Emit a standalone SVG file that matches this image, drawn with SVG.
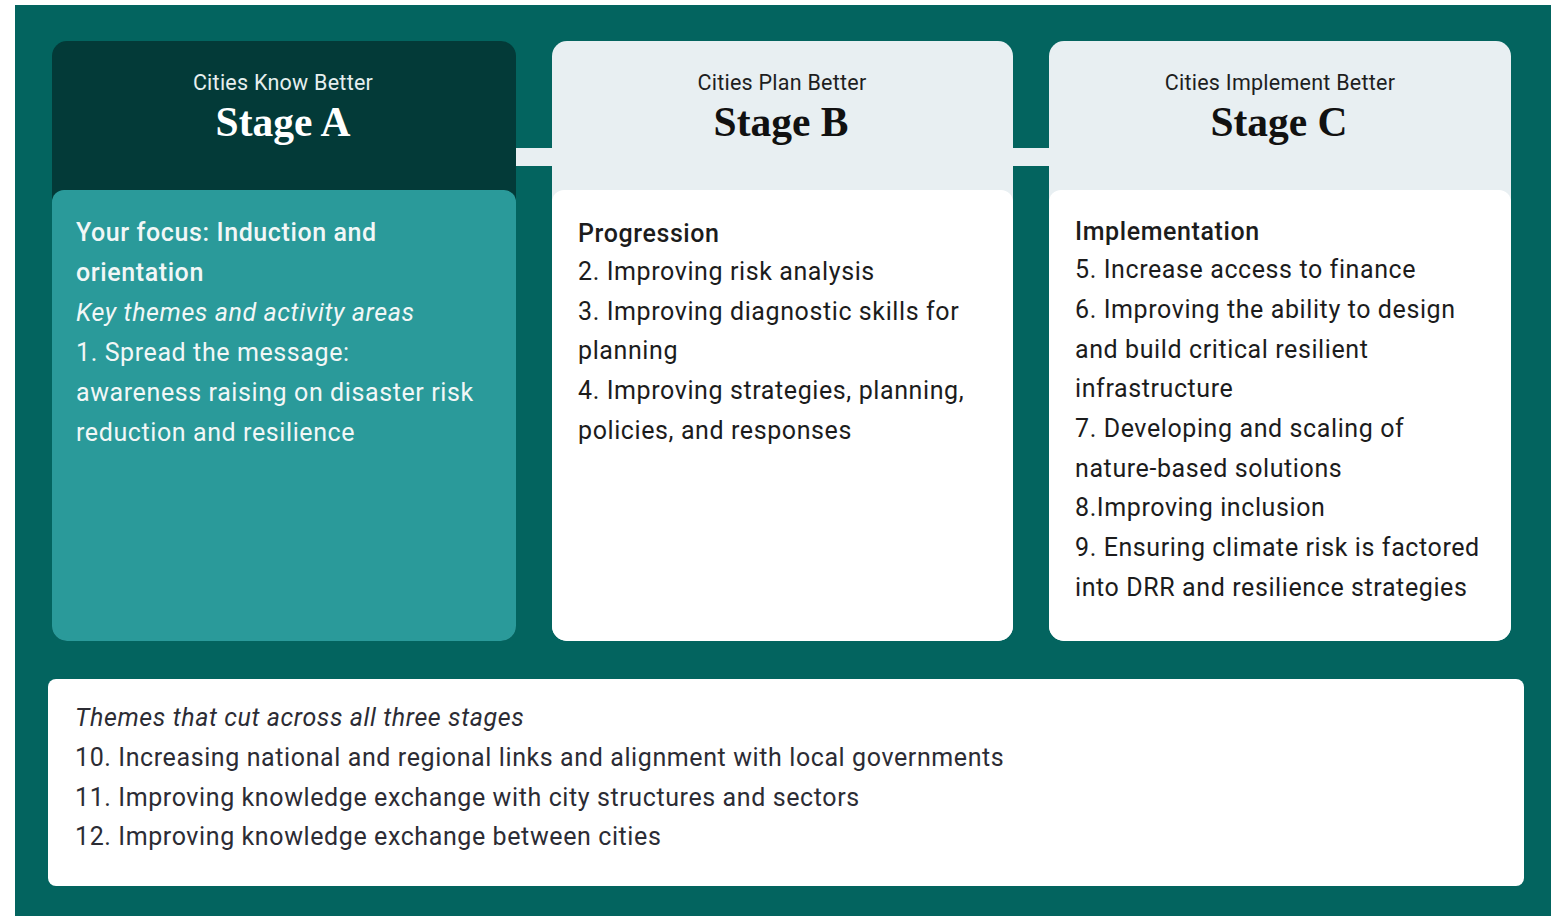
<svg xmlns="http://www.w3.org/2000/svg" width="1551" height="916" viewBox="0 0 1551 916">
<style>
.sub{font-family:Roboto,"Liberation Sans",sans-serif;font-size:21.5px;letter-spacing:0.25px;text-anchor:middle}
.ttl{font-family:"Liberation Serif","DejaVu Serif",serif;font-weight:bold;font-size:41.5px;text-anchor:middle}
.b{font-family:Roboto,"Liberation Sans",sans-serif;font-size:25px;letter-spacing:0.6px}
.hd{font-weight:500}
.it{font-style:italic}
.dk{fill:#1c1c1c}
.lt{fill:#f2f7f7}
.bt{fill:#2c2c34}
</style>
<rect x="0" y="0" width="1551" height="916" fill="#ffffff"/>
<rect x="15" y="5" width="1536" height="911" fill="#03645f"/>
<g id="connectors">
<rect x="510" y="148" width="48" height="18" fill="#e8eff2"/>
<rect x="1007" y="148" width="48" height="18" fill="#e8eff2"/>
</g>
<g id="stageA">
<rect x="52" y="41" width="464" height="600" rx="15" fill="#033a38"/>
<path d="M52 202 a12 12 0 0 1 12 -12 h440 a12 12 0 0 1 12 12 v424 a15 15 0 0 1 -15 15 h-434 a15 15 0 0 1 -15 -15 z" fill="#2a9a9a"/>
<text class="sub" x="283" y="90" fill="#e6efef">Cities Know Better</text>
<text class="ttl" x="283" y="136" fill="#ffffff">Stage A</text>
<text class="b lt hd" x="76" y="241">Your focus: Induction and</text>
<text class="b lt hd" x="76" y="281">orientation</text>
<text class="b lt it" x="76" y="321">Key themes and activity areas</text>
<text class="b lt" x="76" y="361">1. Spread the message:</text>
<text class="b lt" x="76" y="401">awareness raising on disaster risk</text>
<text class="b lt" x="76" y="441">reduction and resilience</text>
</g>
<g id="stageB">
<rect x="552" y="41" width="461" height="600" rx="15" fill="#e8eff2"/>
<path d="M552 202 a12 12 0 0 1 12 -12 h437 a12 12 0 0 1 12 12 v424 a15 15 0 0 1 -15 15 h-431 a15 15 0 0 1 -15 -15 z" fill="#ffffff"/>
<text class="sub" x="782" y="90" fill="#1e1e1e">Cities Plan Better</text>
<text class="ttl" x="781" y="136" fill="#111111">Stage B</text>
<text class="b dk hd" x="578" y="242">Progression</text>
<text class="b dk" x="578" y="280">2. Improving risk analysis</text>
<text class="b dk" x="578" y="320">3. Improving diagnostic skills for</text>
<text class="b dk" x="578" y="359">planning</text>
<text class="b dk" x="578" y="399">4. Improving strategies, planning,</text>
<text class="b dk" x="578" y="439">policies, and responses</text>
</g>
<g id="stageC">
<rect x="1049" y="41" width="462" height="600" rx="15" fill="#e8eff2"/>
<path d="M1049 202 a12 12 0 0 1 12 -12 h438 a12 12 0 0 1 12 12 v424 a15 15 0 0 1 -15 15 h-432 a15 15 0 0 1 -15 -15 z" fill="#ffffff"/>
<text class="sub" x="1280" y="90" fill="#1e1e1e">Cities Implement Better</text>
<text class="ttl" x="1279" y="136" fill="#111111">Stage C</text>
<text class="b dk hd" x="1075" y="240">Implementation</text>
<text class="b dk" x="1075" y="278">5. Increase access to finance</text>
<text class="b dk" x="1075" y="318">6. Improving the ability to design</text>
<text class="b dk" x="1075" y="358">and build critical resilient</text>
<text class="b dk" x="1075" y="397">infrastructure</text>
<text class="b dk" x="1075" y="437">7. Developing and scaling of</text>
<text class="b dk" x="1075" y="477">nature-based solutions</text>
<text class="b dk" x="1075" y="516">8.Improving inclusion</text>
<text class="b dk" x="1075" y="556">9. Ensuring climate risk is factored</text>
<text class="b dk" x="1075" y="596">into DRR and resilience strategies</text>
</g>
<g id="crosscutting">
<rect x="48" y="679" width="1476" height="207" rx="8" fill="#ffffff"/>
<text class="b bt it" x="75" y="726">Themes that cut across all three stages</text>
<text class="b bt" x="75" y="766">10. Increasing national and regional links and alignment with local governments</text>
<text class="b bt" x="75" y="806">11. Improving knowledge exchange with city structures and sectors</text>
<text class="b bt" x="75" y="845">12. Improving knowledge exchange between cities</text>
</g>
</svg>
